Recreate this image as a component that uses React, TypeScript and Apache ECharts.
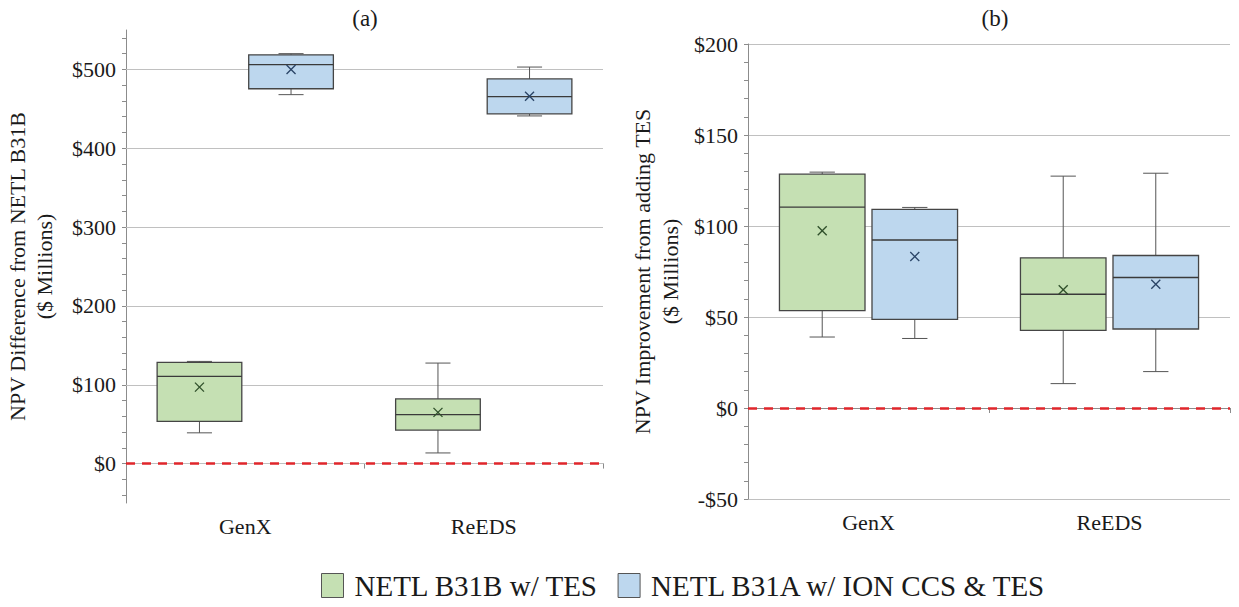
import React, { useEffect, useRef } from "react";
import * as echarts from "echarts";

// ---------- data ----------
const categories = ["GenX", "ReEDS"];
const seriesNames = ["NETL B31B w/ TES", "NETL B31A w/ ION CCS & TES"];

// [low whisker, Q1, median, Q3, high whisker]
const greenA = [
  [39, 53.5, 110.5, 128.5, 129.6],
  [13.5, 42.5, 62, 82, 127.5],
];
const greenAMean = [97, 65];
const blueA = [
  [468, 475.5, 506, 518.5, 520],
  [441, 443.5, 465.5, 488, 503],
];
const blueAMean = [500, 466];

const greenB = [
  [39, 53.5, 110.4, 128.5, 129.6],
  [13.4, 42.6, 62.5, 82.5, 127.4],
];
const greenBMean = [97.4, 65];
const blueB = [
  [38.2, 48.7, 92.3, 109.1, 110.2],
  [20, 43.4, 71.7, 83.8, 129],
];
const blueBMean = [83.2, 68];

const leftLabelValues = [0, 100, 200, 300, 400, 500];
const leftGridValues = [0, 100, 200, 300, 400, 500];
const zeroLine = 0;

// ---------- style ----------
const GREEN = "#c5e0b3";
const BLUE = "#bdd7ee";
const GREEN_MEAN = "#2f4f2a";
const BLUE_MEAN = "#2a4466";
const FONT = "'Liberation Serif', 'Times New Roman', serif";
const TEXT = "#1a1a1a";
const AXIS = "#8c8c8c";
const GRID = "#c0c0c0";
const BOX_FRAC = 0.355;
const CAP_FRAC = 0.105;
const OFFSET = 0.192;

const money = (v: number) => (v < 0 ? "-$" : "$") + Math.abs(v);

function toRows(stats: number[][], means: number[]) {
  return stats.map((s, i) => [i, ...s, means[i]]);
}

function makeRender(offsetFrac: number, meanColor: string) {
  return (params: any, api: any) => {
    const cat = api.value(0);
    const low = api.value(1);
    const q1 = api.value(2);
    const med = api.value(3);
    const q3 = api.value(4);
    const high = api.value(5);
    const mean = api.value(6);
    const band = api.size([1, 0])[0];
    const cx = api.coord([cat, 0])[0] + offsetFrac * band;
    const half = (band * BOX_FRAC) / 2;
    const cap = (band * CAP_FRAC) / 2;
    const y = (v: number) => api.coord([cat, v])[1];
    const wStyle = { stroke: "#555", lineWidth: 1 };
    const m = 4.5;
    const ym = y(mean);
    return {
      type: "group",
      children: [
        { type: "line", shape: { x1: cx, y1: y(high), x2: cx, y2: y(q3) }, style: wStyle },
        { type: "line", shape: { x1: cx, y1: y(low), x2: cx, y2: y(q1) }, style: wStyle },
        { type: "line", shape: { x1: cx - cap, y1: y(high), x2: cx + cap, y2: y(high) }, style: wStyle },
        { type: "line", shape: { x1: cx - cap, y1: y(low), x2: cx + cap, y2: y(low) }, style: wStyle },
        {
          type: "rect",
          shape: { x: cx - half, y: y(q3), width: half * 2, height: y(q1) - y(q3) },
          style: { fill: api.visual("color"), stroke: "#454545", lineWidth: 1.3 },
        },
        { type: "line", shape: { x1: cx - half, y1: y(med), x2: cx + half, y2: y(med) }, style: { stroke: "#3a3a3a", lineWidth: 1.3 } },
        { type: "line", shape: { x1: cx - m, y1: ym - m, x2: cx + m, y2: ym + m }, style: { stroke: meanColor, lineWidth: 1.3 } },
        { type: "line", shape: { x1: cx - m, y1: ym + m, x2: cx + m, y2: ym - m }, style: { stroke: meanColor, lineWidth: 1.3 } },
      ],
    };
  };
}

const redLine = {
  silent: true,
  symbol: ["none", "none"],
  label: { show: false },
  lineStyle: { color: "#e0262b", type: [9, 7], width: 2.5 },
  data: [{ yAxis: zeroLine }],
};

function boxSeries(name: string, color: string, meanColor: string, offset: number, rows: number[][], idx: number, withRed: boolean) {
  return {
    type: "custom",
    name,
    xAxisIndex: idx,
    yAxisIndex: idx,
    z: 2,
    itemStyle: { color, borderColor: "#555", borderWidth: 1 },
    dimensions: ["cat", "low", "q1", "med", "q3", "high", "mean"],
    encode: { x: 0, y: [1, 2, 3, 4, 5, 6] },
    renderItem: makeRender(offset, meanColor),
    data: rows,
    markLine: withRed ? redLine : undefined,
  };
}

const catAxis = (gridIndex: number) => ({
  type: "category",
  gridIndex,
  data: categories,
  boundaryGap: true,
  axisLine: { lineStyle: { color: AXIS, width: 1 } },
  axisTick: { show: true, length: 5, lineStyle: { color: AXIS } },
  axisLabel: { color: TEXT, fontFamily: FONT, fontSize: 22, margin: 12 },
});

export default function App() {
  const ref = useRef<HTMLDivElement>(null);
  useEffect(() => {
    if (!ref.current) return;
    const chart = echarts.init(ref.current, null, { renderer: "svg" });
    const leftTicks: number[] = [];
    for (let v = -40; v <= 540; v += 20) leftTicks.push(v);

    chart.setOption({
      animation: false,
      backgroundColor: "#ffffff",
      grid: [
        { left: 126, right: 1239 - 603, top: 30, bottom: 607 - 503, outerBoundsMode: "none", containLabel: false },
        { left: 748, right: 1239 - 1230, top: 44, bottom: 607 - 499, outerBoundsMode: "none", containLabel: false },
      ],
      xAxis: [catAxis(0), catAxis(1)],
      yAxis: [
        {
          type: "value",
          gridIndex: 0,
          min: -50,
          max: 550,
          name: "NPV Difference from NETL B31B\n($ Millions)",
          nameLocation: "middle",
          nameGap: 68,
          nameTextStyle: { color: TEXT, fontFamily: FONT, fontSize: 22, lineHeight: 27 },
          axisLine: { show: true, lineStyle: { color: AXIS } },
          axisTick: { show: true, length: 4, customValues: leftTicks, lineStyle: { color: AXIS } },
          axisLabel: { color: TEXT, fontFamily: FONT, fontSize: 22, margin: 10, customValues: leftLabelValues, formatter: money },
          splitLine: { show: false },
        },
        {
          type: "value",
          gridIndex: 1,
          min: -50,
          max: 200,
          interval: 50,
          name: "NPV Improvement from adding TES\n($ Millions)",
          nameLocation: "middle",
          nameGap: 64,
          nameTextStyle: { color: TEXT, fontFamily: FONT, fontSize: 22, lineHeight: 28 },
          axisLine: { show: true, lineStyle: { color: AXIS } },
          axisTick: { show: true, length: 4, lineStyle: { color: AXIS } },
          minorTick: { show: true, splitNumber: 5, length: 4, lineStyle: { color: AXIS } },
          axisLabel: { color: TEXT, fontFamily: FONT, fontSize: 22, margin: 10, formatter: money },
          splitLine: { show: true, lineStyle: { color: GRID, width: 1 } },
        },
      ],
      legend: {
        data: seriesNames,
        left: 316,
        top: 566,
        itemWidth: 22,
        itemHeight: 24,
        itemGap: 19,
        icon: "rect",
        itemStyle: { borderColor: "#555", borderWidth: 1 },
        textStyle: { color: TEXT, fontFamily: FONT, fontSize: 29, padding: [0, 0, 0, 6] },
      },
      graphic: [
        { type: "text", x: 365, y: 18, style: { text: "(a)", fill: TEXT, font: `23px ${FONT}`, textAlign: "center", textVerticalAlign: "middle" } },
        { type: "text", x: 995, y: 18, style: { text: "(b)", fill: TEXT, font: `23px ${FONT}`, textAlign: "center", textVerticalAlign: "middle" } },
      ],
      series: [
        {
          type: "line",
          name: "grid-a",
          xAxisIndex: 0,
          yAxisIndex: 0,
          data: [],
          silent: true,
          markLine: {
            z: 1,
            silent: true,
            symbol: ["none", "none"],
            label: { show: false },
            lineStyle: { color: GRID, type: "solid", width: 1 },
            data: leftGridValues.map((v) => ({ yAxis: v })),
          },
        },
        boxSeries(seriesNames[0], GREEN, GREEN_MEAN, -OFFSET, toRows(greenA, greenAMean), 0, true),
        boxSeries(seriesNames[1], BLUE, BLUE_MEAN, OFFSET, toRows(blueA, blueAMean), 0, false),
        boxSeries(seriesNames[0], GREEN, GREEN_MEAN, -OFFSET, toRows(greenB, greenBMean), 1, true),
        boxSeries(seriesNames[1], BLUE, BLUE_MEAN, OFFSET, toRows(blueB, blueBMean), 1, false),
      ],
    });
    return () => chart.dispose();
  }, []);
  return (
    <div
      ref={ref}
      style={{ position: "fixed", left: 0, top: 0, width: 1239, height: 607, background: "#fff" }}
    />
  );
}
